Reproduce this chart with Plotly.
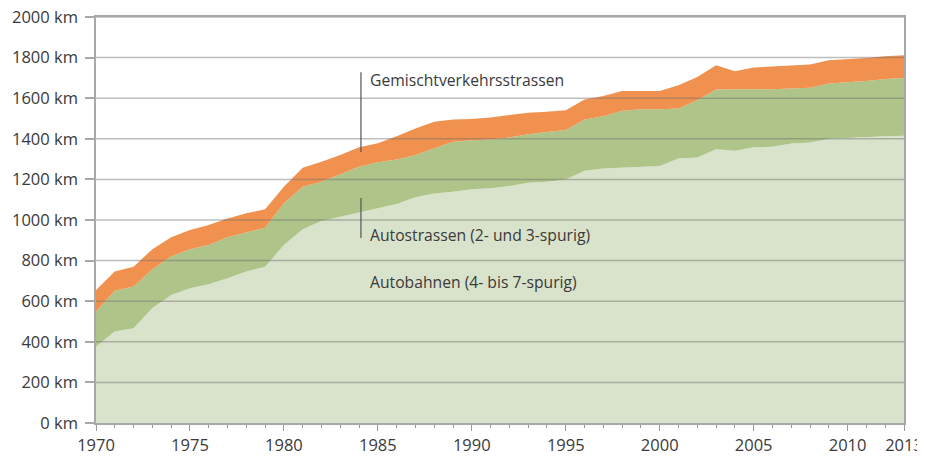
import plotly.graph_objects as go

years = list(range(1970, 2014))

autobahnen = [377, 451, 467, 566, 631, 664, 684, 713, 746, 770,
              877, 954, 995, 1016, 1038, 1057, 1079, 1112, 1131, 1139,
              1151, 1156, 1167, 1184, 1188, 1200, 1243, 1254, 1259, 1262,
              1266, 1303, 1308, 1349, 1341, 1358, 1361, 1377, 1382, 1400,
              1405, 1410, 1413, 1415]

autostrassen = [172, 200, 205, 191, 189, 192, 193, 202, 193, 192,
                205, 210, 193, 210, 224, 228, 219, 208, 221, 246,
                242, 241, 240, 239, 246, 243, 252, 257, 279, 283,
                280, 246, 282, 294, 303, 285, 283, 271, 269, 272,
                272, 275, 281, 285]

gemischt = [106, 95, 98, 99, 95, 95, 98, 93, 94, 91,
            82, 93, 99, 94, 96, 93, 115, 131, 132, 110,
            104, 108, 110, 105, 99, 98, 99, 100, 97, 91,
            90, 115, 115, 119, 89, 108, 113, 114, 115, 115,
            115, 113, 113, 112]

series_names = ["Autobahnen (4- bis 7-spurig)",
                "Autostrassen (2- und 3-spurig)",
                "Gemischtverkehrsstrassen"]
colors = ["#D9E2CA", "#AEC489", "#F0914F"]

y_ticks = list(range(0, 2001, 200))
y_ticktext = [f"{v} km" for v in y_ticks]
x_ticks = [1970, 1975, 1980, 1985, 1990, 1995, 2000, 2005, 2010, 2013]

FONT = "Open Sans"
TXT = "#3a3a3a"
GRID = "rgba(110,110,110,0.45)"

fig = go.Figure()
for vals, name, col in zip([autobahnen, autostrassen, gemischt], series_names, colors):
    fig.add_trace(go.Scatter(
        x=years, y=vals, name=name, mode="lines",
        stackgroup="one", line=dict(width=0, color=col),
        fillcolor=col, showlegend=False))

# gridlines drawn above fills
for v in y_ticks[1:]:
    fig.add_shape(type="line", xref="paper", yref="y", x0=0, x1=1, y0=v, y1=v,
                  line=dict(color=GRID, width=1.5), layer="above")

# label leader lines
fig.add_shape(type="line", xref="x", yref="y", x0=1984.1, x1=1984.1, y0=1335, y1=1728,
              line=dict(color="#555555", width=1.2), layer="above")
fig.add_shape(type="line", xref="x", yref="y", x0=1984.1, x1=1984.1, y0=911, y1=1108,
              line=dict(color="#555555", width=1.2), layer="above")

labels = [("Gemischtverkehrsstrassen", 1689),
          ("Autostrassen (2- und 3-spurig)", 924),
          ("Autobahnen (4- bis 7-spurig)", 694)]
for txt, yv in labels:
    fig.add_annotation(x=1984.45, y=yv, text=txt, showarrow=False,
                       xanchor="left", yanchor="middle",
                       font=dict(family=FONT, size=15.7, color=TXT))

# page body has an 8px margin; compensate so the plot area sits where the reference has it
fig.update_layout(
    width=917, height=448,
    margin=dict(l=88, r=21, t=9, b=33),
    paper_bgcolor="white", plot_bgcolor="white",
    font=dict(family=FONT, size=16, color=TXT),
    xaxis=dict(range=[1970, 2013], tickmode="array", tickvals=x_ticks,
               ticktext=[str(t) for t in x_ticks], automargin=False,
               ticklabeloverflow="allow",
               ticks="outside", ticklen=6, tickcolor="#999999", tickwidth=1,
               minor=dict(tickmode="linear", tick0=1970, dtick=1, ticks="outside",
                          ticklen=3, tickcolor="#999999"),
               showgrid=False, zeroline=False, showline=True, linecolor="#a8a8a8",
               linewidth=1.5, mirror=True, layer="above traces",
               tickfont=dict(family=FONT, size=16.5, color=TXT)),
    yaxis=dict(range=[0, 2000], tickmode="array", tickvals=y_ticks, ticktext=y_ticktext,
               ticks="outside", ticklen=9, tickcolor="#a8a8a8", tickwidth=1.5,
               showgrid=False, zeroline=False, showline=True, linecolor="#a8a8a8",
               linewidth=1.5, mirror=True, layer="above traces", automargin=False,
               ticklabeloverflow="allow", ticklabelstandoff=4,
               tickfont=dict(family=FONT, size=16.5, color=TXT)),
)

fig.write_html("out.html")
